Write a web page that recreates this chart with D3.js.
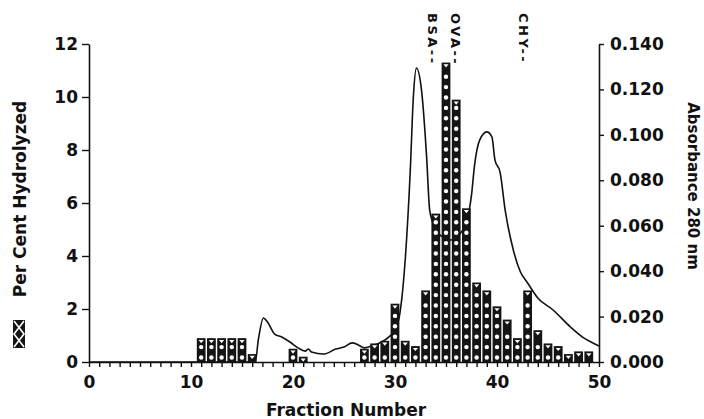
<!DOCTYPE html>
<html>
<head>
<meta charset="utf-8">
<script src="https://cdn.jsdelivr.net/npm/d3@7"></script>
<style>
  body { margin: 0; background: #fff; }
  text { font-family: "DejaVu Sans", sans-serif; font-weight: bold; fill: #111; }
</style>
</head>
<body>
<div id="container"></div>
<script>
// fraction numbers carrying a bar, and the per cent hydrolyzed for each
const barFraction = [11, 12, 13, 14, 15, 16, 20, 21, 27, 28, 29, 30, 31, 32, 33, 34, 35, 36, 37, 38, 39, 40, 41, 42, 43, 44, 45, 46, 47, 48, 49];
const percentHydrolyzed = [0.9, 0.9, 0.9, 0.9, 0.9, 0.3, 0.5, 0.2, 0.5, 0.7, 0.8, 2.2, 0.8, 0.6, 2.7, 5.6, 11.3, 9.9, 5.8, 3.0, 2.7, 2.1, 1.6, 0.9, 2.7, 1.2, 0.7, 0.6, 0.3, 0.4, 0.4];

// absorbance trace (280 nm)
const absFraction = [0, 16.3, 16.6, 17.1, 17.5, 18.2, 18.9, 19.7, 20.5, 21.2, 21.5, 21.8, 23.0, 24.2, 25.0, 25.8, 26.4, 27.0, 28.0, 28.5, 29.5, 30.0, 30.5, 31.0, 31.5, 31.8, 32.1, 32.6, 33.1, 33.4, 33.9, 34.5, 35.5, 36.5, 37.0, 37.5, 37.8, 38.3, 39.0, 39.5, 39.8, 40.3, 40.8, 41.6, 42.3, 43.0, 44.0, 45.5, 47.2, 48.5, 49.8, 50];
const absorbance = [0, 0, 0.0097, 0.0194, 0.0176, 0.0123, 0.0110, 0.0088, 0.0062, 0.0048, 0.0057, 0.0044, 0.0035, 0.0057, 0.0066, 0.0084, 0.0075, 0.0062, 0.0075, 0.0084, 0.0114, 0.0141, 0.0220, 0.0449, 0.0845, 0.1167, 0.1294, 0.1197, 0.0903, 0.0669, 0.0594, 0.0555, 0.0537, 0.0572, 0.0616, 0.0735, 0.0867, 0.0977, 0.1013, 0.0991, 0.0889, 0.0836, 0.0669, 0.0493, 0.0396, 0.0348, 0.0282, 0.0229, 0.0154, 0.0106, 0.0075, 0.0070];

// marker proteins at the top
const markerNames = ["BSA--", "OVA--", "CHY--"];
const markerFraction = [33.7, 35.9, 42.6];

// tick labels
const xTicks = [0, 10, 20, 30, 40, 50];
const yTicks = [0, 2, 4, 6, 8, 10, 12];
const absTicks = [0, 0.02, 0.04, 0.06, 0.08, 0.1, 0.12, 0.14];

const WIDTH = 704;
const HEIGHT = 419;
const LEFT = 89;
const RIGHT = 599;
const TOP = 44;
const BOTTOM = 362;

const svg = d3.select("#container")
  .append("svg")
  .attr("width", WIDTH)
  .attr("height", HEIGHT);

const x = d3.scaleLinear().domain([0, 50]).range([LEFT, RIGHT]);
const y = d3.scaleLinear().domain([0, 12]).range([BOTTOM, TOP]);
const yAbs = d3.scaleLinear().domain([0, 0.14]).range([BOTTOM, TOP]);

// absorbance line, drawn under the bars
const line = d3.line()
  .x((d, i) => x(absFraction[i]))
  .y((d) => yAbs(d))
  .curve(d3.curveMonotoneX);

svg.append("path")
  .datum(absorbance)
  .attr("d", line)
  .attr("fill", "none")
  .attr("stroke", "#111")
  .attr("stroke-width", 1.6);

// bars
const step = x(1) - x(0);
const barW = step * 0.86;
const bars = barFraction.map((f, i) => ({ f, v: percentHydrolyzed[i] }));

const barG = svg.append("g");
barG.selectAll("rect")
  .data(bars)
  .enter()
  .append("rect")
  .attr("x", (d) => x(d.f) - barW / 2)
  .attr("y", (d) => y(d.v))
  .attr("width", barW)
  .attr("height", (d) => y(0) - y(d.v))
  .attr("fill", "#141414");

// white dots inside each bar
const dots = [];
bars.forEach((d) => {
  const top = y(d.v);
  for (let cy = y(0) - 4.5; cy > top + 8; cy -= 10.4) dots.push({ cx: x(d.f), cy });
});
barG.selectAll("circle")
  .data(dots)
  .enter()
  .append("circle")
  .attr("cx", (d) => d.cx)
  .attr("cy", (d) => d.cy)
  .attr("r", 2.2)
  .attr("fill", "#fff");

// little white notch at the top of each bar
barG.selectAll("path.notch")
  .data(bars.filter((d) => y(0) - y(d.v) > 5))
  .enter()
  .append("path")
  .attr("class", "notch")
  .attr("d", (d) => {
    const cx = x(d.f), t = y(d.v);
    return `M${cx - 2.6},${t + 1.8}L${cx + 2.6},${t + 1.8}L${cx},${t + 5}Z`;
  })
  .attr("fill", "#fff");

// axes
const styleAxis = (g) => {
  g.selectAll("path.domain").attr("stroke", "#111").attr("stroke-width", 1.6);
  g.selectAll(".tick line").attr("stroke", "#111").attr("stroke-width", 1.4);
  g.selectAll("text")
    .attr("font-family", "DejaVu Sans")
    .attr("font-weight", "bold")
    .attr("font-size", 17)
    .attr("fill", "#111");
};

svg.append("g")
  .attr("transform", `translate(0, ${BOTTOM})`)
  .call(d3.axisBottom(x).tickValues(d3.range(0, 51)).tickSize(5).tickSizeOuter(0)
    .tickPadding(9).tickFormat((d) => (xTicks.includes(d) ? d : "")))
  .call(styleAxis);

svg.append("g")
  .attr("transform", `translate(${LEFT}, 0)`)
  .call(d3.axisLeft(y).tickValues(yTicks).tickSize(7).tickSizeOuter(0).tickPadding(4))
  .call(styleAxis);

svg.append("g")
  .attr("transform", `translate(${RIGHT}, 0)`)
  .call(d3.axisRight(yAbs).tickValues(absTicks).tickSize(5).tickSizeOuter(0)
    .tickPadding(6).tickFormat(d3.format(".3f")))
  .call(styleAxis);

// axis titles
svg.append("text")
  .attr("x", 346)
  .attr("y", 416)
  .attr("text-anchor", "middle")
  .attr("font-size", 17)
  .text("Fraction Number");

svg.append("text")
  .attr("transform", "translate(26, 199) rotate(-90)")
  .attr("text-anchor", "middle")
  .attr("font-size", 17)
  .text("Per Cent Hydrolyzed");

svg.append("text")
  .attr("transform", "translate(688, 186) rotate(90)")
  .attr("text-anchor", "middle")
  .attr("font-size", 15)
  .text("Absorbance 280 nm");

// legend swatch
const sw = svg.append("g");
sw.append("rect").attr("x", 13).attr("y", 320).attr("width", 12).attr("height", 28)
  .attr("fill", "#141414");
sw.append("path")
  .attr("d", "M14,321L24,334L14,347M24,321L14,334L24,347")
  .attr("stroke", "#fff").attr("stroke-width", 1.6).attr("fill", "none");

// marker labels
svg.selectAll("text.marker")
  .data(markerNames)
  .enter()
  .append("text")
  .attr("class", "marker")
  .attr("transform", (d, i) => `translate(${x(markerFraction[i]) - 4.5}, 13) rotate(90)`)
  .attr("font-size", 13)
  .attr("letter-spacing", 2.5)
  .text((d) => d);
</script>
</body>
</html>
